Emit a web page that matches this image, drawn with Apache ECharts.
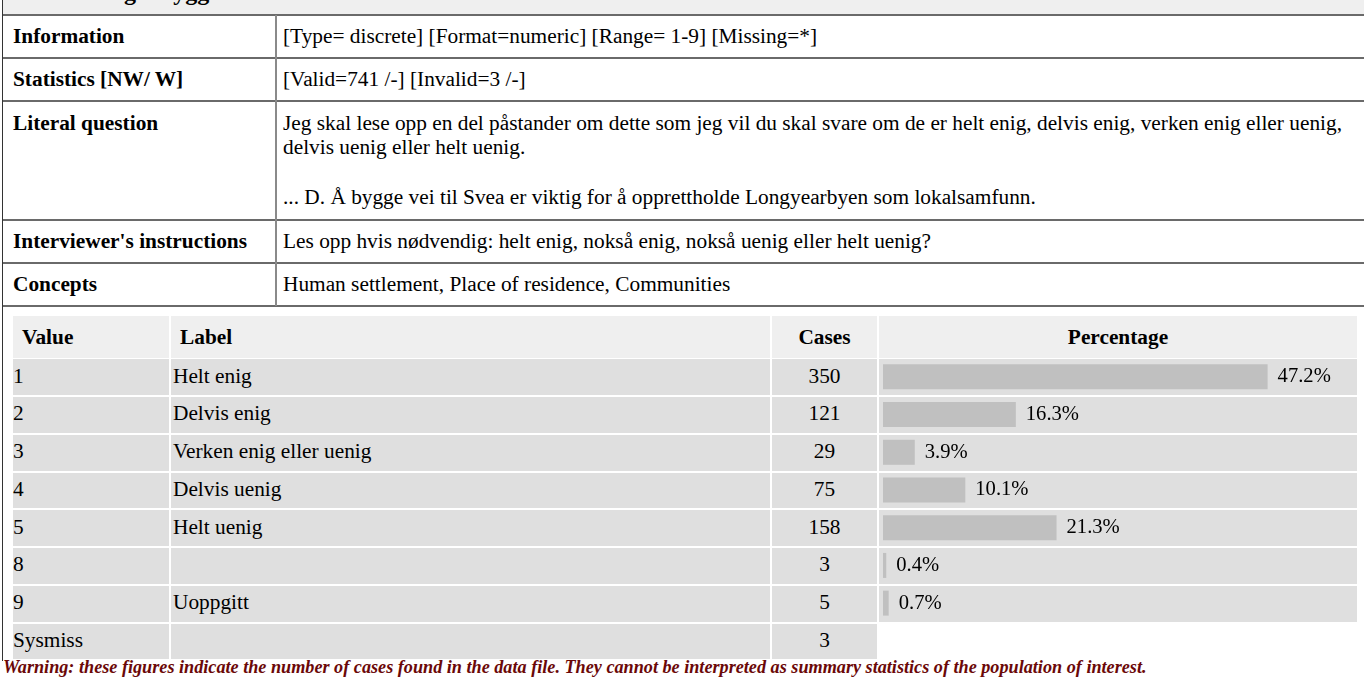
<!DOCTYPE html>
<html>
<head>
<meta charset="utf-8">
<script src="https://cdn.jsdelivr.net/npm/echarts@6/dist/echarts.min.js"></script>
<style>
  html, body { margin: 0; padding: 0; background: #fff; overflow: hidden; }
  #page {
    position: absolute; left: 0; top: 0; width: 1364px; height: 677px;
    font-family: "Liberation Serif", "Times New Roman", serif;
    font-size: 21.33px; color: #000; overflow: hidden;
  }
  .txt { position: absolute; white-space: nowrap; line-height: 20px; }
  .b { font-weight: bold; }
</style>
</head>
<body>
<div id="page"></div>

<script>
// ---- data ----
const titleText = 'D. Viktig å bygge vei til Svea'
const infoLabels = ['Information', 'Statistics [NW/ W]', 'Literal question', "Interviewer's instructions", 'Concepts']
const infoTexts = [
  '[Type= discrete] [Format=numeric] [Range= 1-9] [Missing=*]',
  '[Valid=741 /-] [Invalid=3 /-]',
  null,
  'Les opp hvis nødvendig: helt enig, nokså enig, nokså uenig eller helt uenig?',
  'Human settlement, Place of residence, Communities'
]
const literalLines = [
  'Jeg skal lese opp en del påstander om dette som jeg vil du skal svare om de er helt enig, delvis enig, verken enig eller uenig,',
  'delvis uenig eller helt uenig.',
  '... D. Å bygge vei til Svea er viktig for å opprettholde Longyearbyen som lokalsamfunn.'
]
const headers = ['Value', 'Label', 'Cases', 'Percentage']
const values = ['1', '2', '3', '4', '5', '8', '9', 'Sysmiss']
const labels = ['Helt enig', 'Delvis enig', 'Verken enig eller uenig', 'Delvis uenig', 'Helt uenig', '', 'Uoppgitt', '']
const cases = [350, 121, 29, 75, 158, 3, 5, 3]
const percents = [47.2, 16.3, 3.9, 10.1, 21.3, 0.4, 0.7]
const warning = 'Warning: these figures indicate the number of cases found in the data file. They cannot be interpreted as summary statistics of the population of interest.'

// ---- layout helpers ----
const page = document.getElementById('page')

function rect(x, y, w, h, bg) {
  const d = document.createElement('div')
  d.style.cssText = `position:absolute;left:${x}px;top:${y}px;width:${w}px;height:${h}px;background:${bg}`
  page.appendChild(d)
}

function text(str, x, yc, opt = {}) {
  const d = document.createElement('div')
  d.className = opt.bold ? 'txt b' : 'txt'
  d.textContent = str
  let css = `left:${x}px;top:${yc - 10.5}px;`
  if (opt.w) css += `width:${opt.w}px;text-align:center;`
  if (opt.css) css += opt.css
  d.style.cssText += css
  page.appendChild(d)
}

// title strip (page is scrolled, only descenders peek out)
rect(3, 0, 1361, 15, '#efefef')
text(titleText, 44, 0, { bold: true, css: 'font-size:24px;top:-17.6px;' })

// info table
const lineYs = [14, 57, 100, 219, 262, 305]
lineYs.forEach(y => rect(3, y, 1361, 2, '#6a6a6a'))
rect(275, 15, 2, 291, '#8a8a8a')
rect(2, 0, 1, 661, '#333')

const labelYs = [36.5, 79.5, 123, 241.5, 284.5]
infoLabels.forEach((lab, i) => {
  text(lab, 13, labelYs[i], { bold: true })
  if (infoTexts[i]) text(infoTexts[i], 283, labelYs[i])
})
const literalYs = [123, 147, 197]
literalLines.forEach((l, i) => text(l, 283, literalYs[i]))

// frequency table
const cols = [[13, 169], [171, 770], [772, 877], [879, 1357]]
const headTop = 316, headH = 41.7
const rowTop = 359.3, rowStep = 37.75, rowH = 35.8

cols.forEach(c => rect(c[0], headTop, c[1] - c[0], headH, '#efefef'))
text(headers[0], 22, 337, { bold: true })
text(headers[1], 180, 337, { bold: true })
text(headers[2], cols[2][0], 337, { bold: true, w: cols[2][1] - cols[2][0] })
text(headers[3], cols[3][0], 337, { bold: true, w: cols[3][1] - cols[3][0] })

values.forEach((v, i) => {
  const top = rowTop + rowStep * i
  const yc = top + rowH / 2 - 1
  const nCols = i < percents.length ? 4 : 3
  for (let k = 0; k < nCols; k++) rect(cols[k][0], top, cols[k][1] - cols[k][0], rowH, '#dfdfdf')
  text(v, 13, yc)
  if (labels[i]) text(labels[i], 173, yc)
  text(String(cases[i]), cols[2][0], yc, { w: cols[2][1] - cols[2][0] })
})

text(warning, 3, 668, { bold: true, css: 'font-style:italic;font-size:18.2px;line-height:16px;top:659px;color:#6b0808;' })

// ---- percentage bars ----
const chartDiv = document.createElement('div')
const chartH = rowStep * percents.length
chartDiv.style.cssText = `position:absolute;left:${cols[3][0]}px;top:${rowTop - 1.2}px;width:${cols[3][1] - cols[3][0]}px;height:${chartH}px`
page.appendChild(chartDiv)

const pxPerPct = 384.6 / 47.2
const xMax = 50

const chart = echarts.init(chartDiv, null, { renderer: 'canvas' })
chart.setOption({
  animation: false,
  backgroundColor: 'transparent',
  grid: { left: 4, top: 0, height: chartH, width: xMax * pxPerPct, containLabel: false },
  xAxis: { type: 'value', min: 0, max: xMax, show: false },
  yAxis: { type: 'category', inverse: true, data: values.slice(0, percents.length), show: false },
  series: [{
    type: 'bar',
    data: percents,
    barWidth: 25,
    itemStyle: { color: '#c0c0c0' },
    label: {
      show: true,
      position: 'right',
      distance: 10,
      formatter: p => p.value + '%',
      color: '#000',
      fontFamily: 'Liberation Serif',
      fontSize: 20.6
    }
  }]
})
</script>
</body>
</html>
